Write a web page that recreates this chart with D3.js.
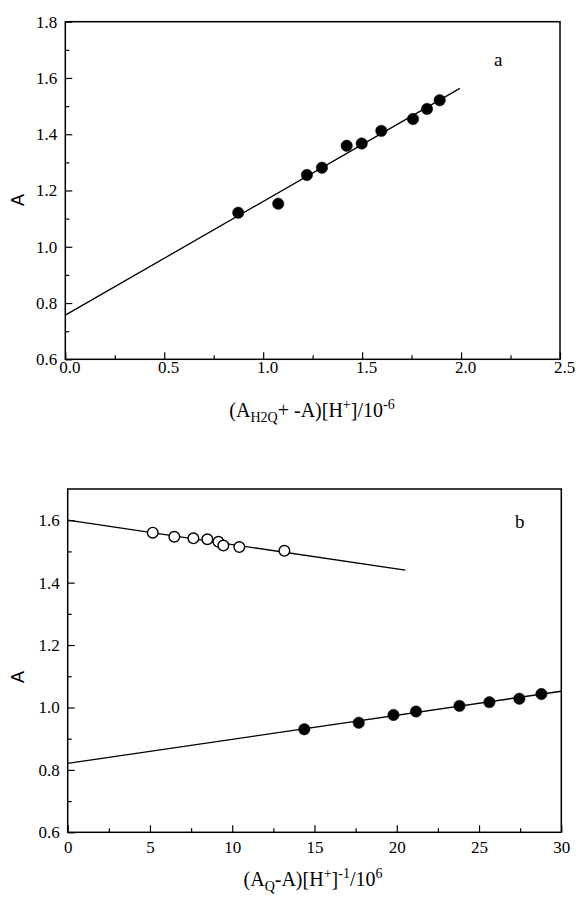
<!DOCTYPE html>
<html>
<head>
<meta charset="utf-8">
<script src="https://cdn.jsdelivr.net/npm/d3@7"></script>
<style>
  html, body { margin: 0; padding: 0; background: #fff; }
  svg { display: block; }
</style>
</head>
<body>
<svg id="chart" width="576" height="899"></svg>
<script>
// ---------- Panel a data ----------
const aX = [0.874, 1.076, 1.221, 1.297, 1.422, 1.498, 1.597, 1.757, 1.828, 1.892];
const aY = [1.121, 1.153, 1.255, 1.281, 1.359, 1.367, 1.412, 1.454, 1.490, 1.521];
const aFitX = [0, 1.994];
const aFitY = [0.757, 1.563];
const aXTicks = [0, 0.5, 1.0, 1.5, 2.0, 2.5];
const aYTicks = [0.6, 0.8, 1.0, 1.2, 1.4, 1.6, 1.8];

// ---------- Panel b data ----------
const bOpenX = [5.17, 6.48, 7.64, 8.49, 9.16, 9.46, 10.43, 13.17];
const bOpenY = [1.560, 1.547, 1.542, 1.539, 1.531, 1.519, 1.514, 1.502];
const bOpenFitX = [0, 20.52];
const bOpenFitY = [1.600, 1.440];
const bFillX = [14.38, 17.69, 19.80, 21.17, 23.81, 25.63, 27.45, 28.79];
const bFillY = [0.930, 0.951, 0.976, 0.987, 1.005, 1.017, 1.028, 1.043];
const bFillFitX = [0, 30];
const bFillFitY = [0.821, 1.052];
const bXTicks = [0, 5, 10, 15, 20, 25, 30];
const bYTicks = [0.6, 0.8, 1.0, 1.2, 1.4, 1.6];

const SERIF = "'Liberation Serif', 'Times New Roman', serif";
const svg = d3.select("#chart");
svg.append("rect").attr("width", 576).attr("height", 899).attr("fill", "#fff");

function zip(xs, ys) { return xs.map((x, i) => [x, ys[i]]); }

function styleAxis(s) {
  s.select(".domain").remove();
  s.attr("font-family", null).attr("font-size", null);
  s.selectAll(".tick line").attr("stroke", "#000").attr("stroke-width", 1.2);
  s.selectAll(".tick text").attr("fill", "#000")
    .style("font-family", SERIF).style("font-size", "17px");
}

function panel(cfg) {
  const x = d3.scaleLinear().domain(cfg.xDomain).range([cfg.left, cfg.right]);
  const y = d3.scaleLinear().domain(cfg.yDomain).range([cfg.bottom, cfg.top]);
  const g = svg.append("g");

  // minor ticks
  g.append("g").attr("transform", `translate(0,${cfg.bottom})`)
    .call(d3.axisBottom(x).tickValues(cfg.xMinor).tickSize(-4).tickFormat(""))
    .call(styleAxis);
  g.append("g").attr("transform", `translate(${cfg.left},0)`)
    .call(d3.axisLeft(y).tickValues(cfg.yMinor).tickSize(-4).tickFormat(""))
    .call(styleAxis);

  // major ticks
  const xa = g.append("g").attr("transform", `translate(0,${cfg.bottom})`)
    .call(d3.axisBottom(x).tickValues(cfg.xTicks).tickSize(-7).tickPadding(cfg.xPad).tickFormat(cfg.xFmt))
    .call(styleAxis);
  xa.selectAll(".tick text").attr("dx", cfg.xDx);
  g.append("g").attr("transform", `translate(${cfg.left},0)`)
    .call(d3.axisLeft(y).tickValues(cfg.yTicks).tickSize(-7).tickPadding(8).tickFormat(d3.format(".1f")))
    .call(styleAxis);

  // frame
  g.append("rect")
    .attr("x", cfg.left).attr("y", cfg.top)
    .attr("width", cfg.right - cfg.left).attr("height", cfg.bottom - cfg.top)
    .attr("fill", "none").attr("stroke", "#000").attr("stroke-width", 1.5);

  const line = d3.line().x(d => x(d[0])).y(d => y(d[1]));
  cfg.fits.forEach(f => {
    g.append("path").datum(zip(f[0], f[1]))
      .attr("d", line).attr("fill", "none").attr("stroke", "#000").attr("stroke-width", 1.3);
  });
  cfg.series.forEach(s => {
    g.append("g").selectAll("circle").data(zip(s.xs, s.ys)).join("circle")
      .attr("cx", d => x(d[0])).attr("cy", d => y(d[1]))
      .attr("r", s.open ? 5.3 : 5.7)
      .attr("fill", s.open ? "#fff" : "#000")
      .attr("stroke", "#000").attr("stroke-width", s.open ? 1.4 : 0.5);
  });

  // panel letter
  g.append("text").attr("x", cfg.letterX).attr("y", cfg.letterY)
    .style("font-family", SERIF).style("font-size", "19px")
    .text(cfg.letter);

  // y label
  g.append("text")
    .attr("transform", `translate(${cfg.yLabX},${cfg.yLabY}) rotate(-90)`)
    .attr("text-anchor", "middle")
    .style("font-family", "'Liberation Sans', Arial, sans-serif").style("font-size", "18px")
    .text("A");
  return { x, y, g };
}

function title(parts, cx, cy) {
  const t = svg.append("text").attr("x", cx).attr("y", cy).attr("text-anchor", "middle")
    .style("font-family", SERIF).style("font-size", "20px").attr("fill", "#000");
  let shift = 0;
  parts.forEach(p => {
    const target = p.sub ? 5 : p.sup ? -8 : 0;
    t.append("tspan").attr("dy", target - shift)
      .style("font-size", (p.sub || p.sup) ? "14px" : "20px").text(p.t);
    shift = target;
  });
}

const range = (a, b, s) => d3.range(a, b + s / 2, s).map(v => +v.toFixed(4));

panel({
  left: 65.3, right: 560, top: 21.7, bottom: 359.3,
  xDomain: [0, 2.5], yDomain: [0.6, 1.8],
  xTicks: aXTicks, yTicks: aYTicks,
  xMinor: range(0.25, 2.25, 0.5), yMinor: range(0.7, 1.7, 0.2),
  xFmt: d3.format(".1f"), xPad: 2, xDx: 4,
  fits: [[aFitX, aFitY]],
  series: [{ xs: aX, ys: aY, open: false }],
  letter: "a", letterX: 494, letterY: 66,
  yLabX: 24, yLabY: 200
});
title([{ t: "(A" }, { t: "H2Q", sub: true }, { t: "+ -A)[H" }, { t: "+", sup: true }, { t: "]/10" }, { t: "-6", sup: true }], 312, 417);

panel({
  left: 67.7, right: 561.3, top: 489, bottom: 832.3,
  xDomain: [0, 30], yDomain: [0.6, 1.7],
  xTicks: bXTicks, yTicks: bYTicks,
  xMinor: range(2.5, 27.5, 5), yMinor: range(0.7, 1.5, 0.2),
  xFmt: d3.format("d"), xPad: 9, xDx: 0,
  fits: [[bOpenFitX, bOpenFitY], [bFillFitX, bFillFitY]],
  series: [{ xs: bOpenX, ys: bOpenY, open: true }, { xs: bFillX, ys: bFillY, open: false }],
  letter: "b", letterX: 515, letterY: 528,
  yLabX: 24, yLabY: 677
});
title([{ t: "(A" }, { t: "Q", sub: true }, { t: "-A)[H" }, { t: "+", sup: true }, { t: "]" }, { t: "-1", sup: true }, { t: "/10" }, { t: "6", sup: true }], 313, 886);
</script>
</body>
</html>
